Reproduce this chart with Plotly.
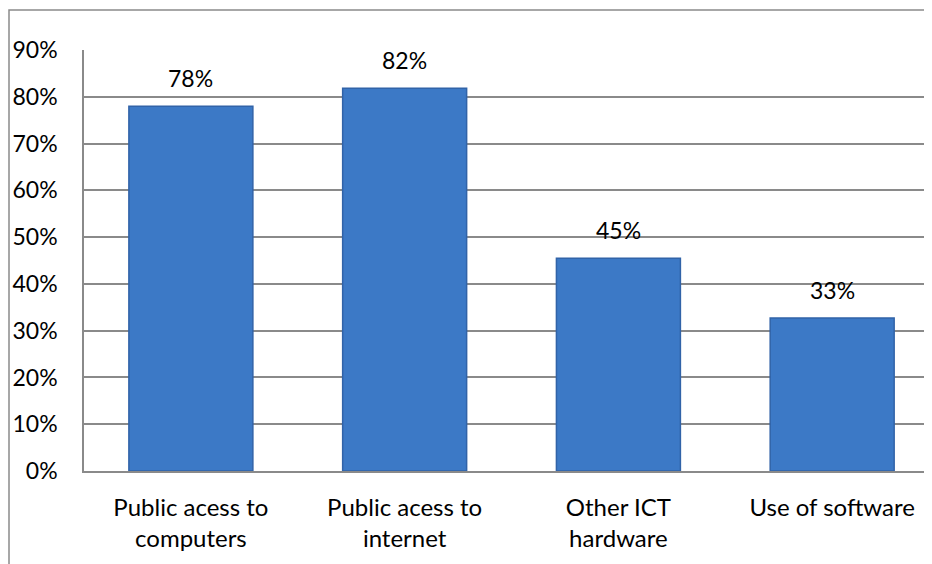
import plotly.graph_objects as go

categories = ["Public acess to<br>computers", "Public acess to<br>internet", "Other ICT<br>hardware", "Use of software"]
values = [0.78, 0.818, 0.455, 0.327]
labels = ["78%", "82%", "45%", "33%"]
y_ticks = [0, 0.1, 0.2, 0.3, 0.4, 0.5, 0.6, 0.7, 0.8, 0.9]
y_ticktext = ["0%", "10%", "20%", "30%", "40%", "50%", "60%", "70%", "80%", "90%"]

FONT = "Lato, Calibri, Carlito, sans-serif"
GRID = "#8a8a8a"

fig = go.Figure()
fig.add_trace(go.Bar(
    x=list(range(len(categories))), y=values,
    marker=dict(color="#3c79c6", line=dict(color="#3163a8", width=1.5)),
    width=0.58, hoverinfo="skip",
))

for i, (v, t) in enumerate(zip(values, labels)):
    fig.add_annotation(x=i, y=v, text=t, showarrow=False, yanchor="bottom",
                       yshift=12, font=dict(family=FONT, size=23, color="#000"))

fig.add_shape(type="rect", xref="paper", yref="paper",
              x0=(1 - 76) / 848, x1=1.05, y0=-0.4, y1=1 + 40 / 421,
              line=dict(color="#8a8a8a", width=1.5), fillcolor="rgba(0,0,0,0)", layer="below")

fig.update_layout(
    width=924, height=556,
    margin=dict(l=76, r=0, t=42, b=93),
    paper_bgcolor="white", plot_bgcolor="white",
    showlegend=False,
    font=dict(family=FONT, size=24, color="#000"),
    xaxis=dict(
        tickmode="array", tickvals=list(range(len(categories))), ticktext=categories,
        range=[-0.5, 3.467], showgrid=False, zeroline=False,
        showline=True, linecolor=GRID, linewidth=1.5,
        ticks="", ticklabelstandoff=14, fixedrange=True, automargin=False,
    ),
    yaxis=dict(
        tickmode="array", tickvals=y_ticks, ticktext=y_ticktext,
        range=[0, 0.9], showgrid=True, gridcolor=GRID, gridwidth=1.5,
        zeroline=False, showline=True, linecolor=GRID, linewidth=1.5,
        ticks="", ticklabelstandoff=20, fixedrange=True, automargin=False,
        tickfont=dict(size=23),
    ),
)

fig.write_html("out.html")
